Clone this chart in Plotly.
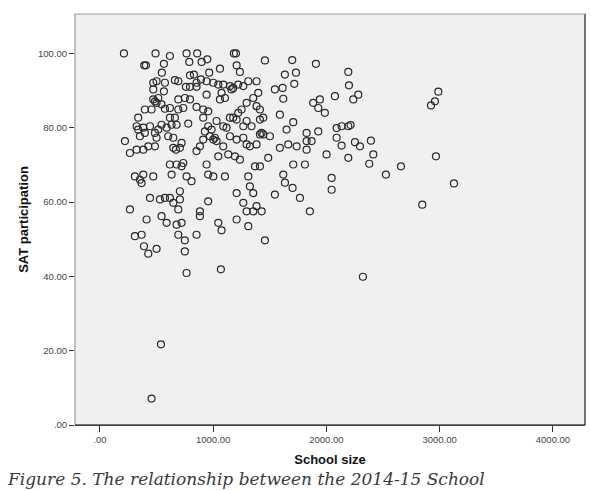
import plotly.graph_objects as go

# School size (x) and SAT participation (y)
school_size = [
    212, 491, 618, 765, 859, 948, 789, 898, 1183, 1201, 1457, 1698, 1907, 391, 406, 565, 547,
    1060, 1207, 1236, 965, 795, 830, 1633, 1731, 1716, 1545, 1613, 1619, 471, 500, 574, 471, 565,
    662, 692, 759, 795, 853, 892, 942, 1001, 1045, 1089, 1148, 1177, 1221, 1266, 1310, 1383, 1398,
    1354, 942, 1060, 1104, 692, 750, 795, 853, 471, 486, 500, 456, 397, 574, 618, 692, 912, 956,
    1295, 1251, 1221, 1177, 1383, 1413, 1442, 1883, 1942, 1928, 1986, 338, 324, 338, 383, 353, 397,
    486, 515, 544, 589, 633, 662, 677, 780, 912, 956, 927, 1030, 1089, 1118, 1148, 1207, 1295, 1339,
    1413, 1589, 1648, 1707, 1825, 1928, 221, 265, 324, 383, 427, 486, 500, 603, 648, 671, 721, 706,
    853, 883, 912, 971, 1001, 1030, 1089, 1148, 1207, 1266, 1295, 1324, 1383, 1413, 1442, 1501,
    1589, 1663, 1737, 1825, 1825, 1869, 2001, 618, 677, 721, 736, 765, 809, 633, 942, 956, 1001,
    1045, 1104, 1133, 1192, 1236, 1310, 1369, 1413, 1486, 1619, 1707, 1810, 309, 353, 383, 471, 368,
    265, 442, 530, 574, 618, 648, 706, 706, 692, 883, 956, 1207, 1266, 1295, 1354, 1383, 1428, 1324,
    1354, 1545, 1701, 1766, 1854, 412, 544, 589, 677, 721, 883, 1045, 1207, 1310,
    309, 368, 389, 427, 500, 692, 750, 750, 853, 765, 1074, 1068, 1457, 539, 456,
    1634,
    2193, 2199, 2075, 2237, 2281, 2988, 2958, 2923, 2090, 2134, 2193, 2213, 2090, 2134, 2252, 2296,
    2393, 2193, 2414, 2378, 2525, 2658, 2967, 3126, 2846, 2046, 2046,
    2322,
    515, 544, 986, 1015, 1162, 1427, 853, 1074, 648, 618, 442, 1266, 736,
]
sat_participation = [
    100, 100, 99.3, 100, 100, 98.4, 97.7, 97.7, 100, 100, 98.1, 98.2, 97.2, 96.8, 96.8, 97.2, 94.8,
    95.9, 96.8, 95.0, 94.8, 94.1, 94.3, 94.3, 94.8, 91.8, 90.3, 90.7, 87.8, 92.1, 92.5, 92.1, 90.3, 89.8,
    92.8, 92.5, 91.0, 91.0, 91.0, 93.0, 92.5, 92.1, 91.6, 91.6, 91.2, 90.7, 91.6, 91.2, 92.5, 92.5, 89.4,
    88.0, 88.9, 87.6, 88.0, 87.6, 88.0, 87.6, 85.6, 87.6, 87.1, 86.7, 84.9, 84.9, 85.1, 85.3, 84.9, 84.9, 84.4,
    86.7, 84.9, 84.0, 82.7, 85.8, 84.9, 82.7, 86.7, 87.6, 85.3, 84.0, 82.7, 80.4, 79.5, 80.0, 77.7, 78.6,
    78.6, 79.5, 80.8, 80.0, 80.8, 82.7, 80.8, 81.1, 82.7, 80.4, 79.0, 81.8, 80.4, 80.0, 82.7, 82.2, 81.8, 80.4,
    82.2, 83.5, 79.5, 81.5, 78.6, 79.0, 76.4, 73.2, 74.1, 74.1, 75.0, 75.0, 77.3, 77.7, 74.6, 74.1, 75.9, 74.6,
    73.7, 75.0, 76.8, 77.7, 76.8, 76.4, 75.0, 77.7, 76.8, 77.3, 75.5, 75.0, 75.5, 78.2, 78.2, 77.7,
    74.6, 75.5, 75.0, 76.4, 74.1, 76.4, 72.8, 70.1, 70.1, 69.6, 70.5, 66.9, 65.6, 67.4, 70.1, 67.4, 66.9,
    72.3, 66.9, 72.8, 72.3, 71.4, 66.9, 69.6, 69.6, 71.9, 67.4, 70.1, 70.1, 66.9, 66.0, 67.4, 66.9, 65.1,
    58.0, 61.1, 60.7, 61.1, 61.1, 59.8, 62.9, 60.7, 58.0, 57.5, 60.2, 62.4, 59.8, 57.5, 57.5, 58.9, 57.5, 64.2,
    62.4, 62.0, 63.8, 61.1, 57.5, 55.3, 56.2, 54.4, 53.9, 54.4, 56.2, 54.4, 55.3, 53.5,
    50.8, 51.2, 48.1, 46.1, 47.4, 51.2, 49.7, 46.7, 51.2, 40.9, 52.4, 41.9, 49.7, 21.7, 7.1,
    65.2,
    95.0, 91.4, 88.5, 87.6, 88.9, 89.7, 87.1, 86.0, 79.9, 80.4, 80.4, 80.7, 77.3, 75.2, 76.1, 75.0,
    76.5, 71.9, 72.8, 70.3, 67.4, 69.6, 72.3, 65.0, 59.3, 66.5, 63.3,
    39.9,
    88.0, 86.3, 79.5, 77.3, 90.3, 78.6, 92.1, 89.4, 77.3, 82.7, 80.4, 80.4, 85.3,
]

x_ticks = [0, 1000, 2000, 3000, 4000]
x_tick_labels = [".00", "1000.00", "2000.00", "3000.00", "4000.00"]
y_ticks = [0, 20, 40, 60, 80, 100]
y_tick_labels = [".00", "20.00", "40.00", "60.00", "80.00", "100.00"]

fig = go.Figure()
fig.add_trace(go.Scatter(
    x=school_size, y=sat_participation, mode="markers",
    marker=dict(symbol="circle-open", size=7, color="#2a2a2a", line=dict(width=1.2)),
    showlegend=False, hoverinfo="x+y",
))

tick_font = dict(family="Liberation Sans, Arial, sans-serif", size=9.5, color="#444")
title_font = dict(family="Liberation Sans, Arial, sans-serif", size=13, color="#111")

fig.update_layout(
    width=591, height=491,
    margin=dict(l=75, r=6, t=14, b=66),
    paper_bgcolor="white", plot_bgcolor="#f0f0f0",
    xaxis=dict(
        range=[-220, 4283], tickmode="array", tickvals=x_ticks, ticktext=x_tick_labels,
        ticks="outside", ticklen=6, tickcolor="#333", tickfont=tick_font,
        showgrid=False, zeroline=False, showline=True, linecolor="#222", linewidth=1,
        title=dict(text="<b>School size</b>", font=title_font, standoff=10),
    ),
    yaxis=dict(
        range=[0, 110.6], tickmode="array", tickvals=y_ticks, ticktext=y_tick_labels,
        ticks="outside", ticklen=5, tickcolor="#333", tickfont=tick_font,
        showgrid=False, zeroline=False, showline=False,
        title=dict(text="<b>SAT participation</b>", font=title_font, standoff=6),
    ),
    shapes=[
        dict(type="rect", xref="paper", yref="paper", x0=0, y0=0, x1=1, y1=1,
             line=dict(color="#999", width=1.2), fillcolor="rgba(0,0,0,0)", layer="above"),
        dict(type="line", xref="paper", yref="paper", x0=1, y0=0, x1=1, y1=1,
             line=dict(color="#444", width=1.2), layer="above"),
        dict(type="line", xref="paper", yref="paper", x0=0, y0=0, x1=1, y1=0,
             line=dict(color="#222", width=1.2), layer="above"),
    ],
    annotations=[
        dict(text="<i>Figure 5. The relationship between the 2014-15 School</i>",
             xref="paper", yref="paper", x=-0.137, y=-0.102, xanchor="left", yanchor="top",
             showarrow=False,
             font=dict(family="DejaVu Serif, Liberation Serif, serif", size=17, color="#3a3a3a")),
    ],
)

fig.write_html("out.html")
